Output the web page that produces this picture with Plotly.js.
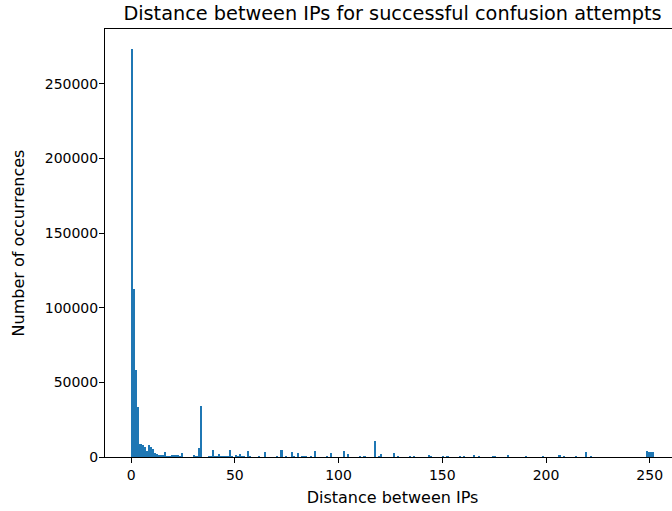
<!DOCTYPE html>
<html>
<head>
<meta charset="utf-8">
<script src="https://cdn.plot.ly/plotly-3.0.1.min.js"></script>
<style>
  html, body { margin: 0; padding: 0; overflow: hidden; background: #fff; }
  #chart { width: 682px; height: 511px; }
</style>
</head>
<body>
<div id="chart"></div>
<script>
// Number of occurrences per distance bin (bin k covers [k, k+1))
const counts = [
  273000,112500,58000,33500,8500,7800,6700,4000,7800,6700,
  5400,2400,2000,1300,1300,1300,3600,500,500,1300,
  1300,1300,1300,500,3000,300,300,300,300,300,
  1600,500,5800,34000,300,300,300,500,1000,4700,
  500,500,2000,500,1000,1000,1000,4700,500,300,
  1300,500,2000,1000,1000,300,4000,800,300,300,
  300,1000,300,300,3300,300,300,300,300,300,
  1000,300,4700,300,500,300,300,3300,1000,300,
  2700,300,400,400,400,300,1000,300,4000,300,
  300,300,300,300,1000,300,2700,300,300,300,
  300,300,4000,300,2000,300,300,300,300,300,
  1000,300,1000,300,300,300,300,11000,300,1000,
  2000,200,200,200,200,200,2700,200,500,200,
  200,200,200,200,500,200,500,200,200,200,
  200,200,200,1300,700,200,200,200,200,200,
  500,200,500,200,200,200,200,200,1000,200,
  500,100,100,100,100,1100,100,500,100,100,
  100,100,100,100,500,500,100,100,100,100,
  100,1100,100,100,100,100,100,100,100,100,
  500,100,100,100,100,100,100,100,500,100,
  100,100,100,100,100,100,1100,100,500,100,
  100,100,100,100,500,100,100,100,100,3100,
  100,500,0,0,0,0,0,0,0,0,
  0,0,0,0,0,0,0,0,0,0,
  0,0,0,0,0,0,0,0,3800,3100,
  3100,3100
];
// Bin start (distance value) for each count
const distances = counts.map((_, i) => i);

const xTicks = [0, 50, 100, 150, 200, 250];
const yTicks = [0, 50000, 100000, 150000, 200000, 250000];

const titleText = 'Distance between IPs for successful confusion attempts';
const xLabel = 'Distance between IPs';
const yLabel = 'Number of occurrences';

const font = { family: 'DejaVu Sans, sans-serif', color: '#000' };

const maxCount = Math.max(...counts);
const maxDist = distances[distances.length - 1] + 1;
const xPad = maxDist * 0.05;

const trace = {
  type: 'bar',
  x: distances,
  y: counts,
  offset: 0,
  width: 1,
  marker: { color: '#1f77b4', line: { width: 0 } },
  hoverinfo: 'x+y'
};

const axisCommon = {
  showline: true,
  linecolor: '#000',
  linewidth: 1,
  mirror: true,
  ticks: 'outside',
  ticklen: 5,
  tickwidth: 1,
  tickcolor: '#000',
  showgrid: false,
  zeroline: false,
  tickfont: Object.assign({ size: 14 }, font)
};

const layout = {
  width: 682,
  height: 511,
  margin: { l: 105, r: 2, t: 29, b: 54 },
  paper_bgcolor: '#fff',
  plot_bgcolor: '#fff',
  bargap: 0,
  showlegend: false,
  font: font,
  title: {
    text: titleText,
    font: Object.assign({ size: 19.3 }, font),
    x: 0.5,
    xref: 'paper',
    xanchor: 'center',
    y: 1 - 13.5 / 511,
    yref: 'container',
    yanchor: 'middle'
  },
  xaxis: Object.assign({}, axisCommon, {
    range: [-xPad, maxDist + xPad],
    tickvals: xTicks,
    ticktext: xTicks.map(String),
    title: { text: xLabel, font: Object.assign({ size: 16 }, font), standoff: 10 }
  }),
  yaxis: Object.assign({}, axisCommon, {
    range: [0, maxCount * 1.05],
    tickvals: yTicks,
    ticktext: yTicks.map(String),
    ticklabelstandoff: -2,
    title: { text: yLabel, font: Object.assign({ size: 16 }, font), standoff: 16 }
  })
};

Plotly.newPlot('chart', [trace], layout, { staticPlot: true, displayModeBar: false });
</script>
</body>
</html>
